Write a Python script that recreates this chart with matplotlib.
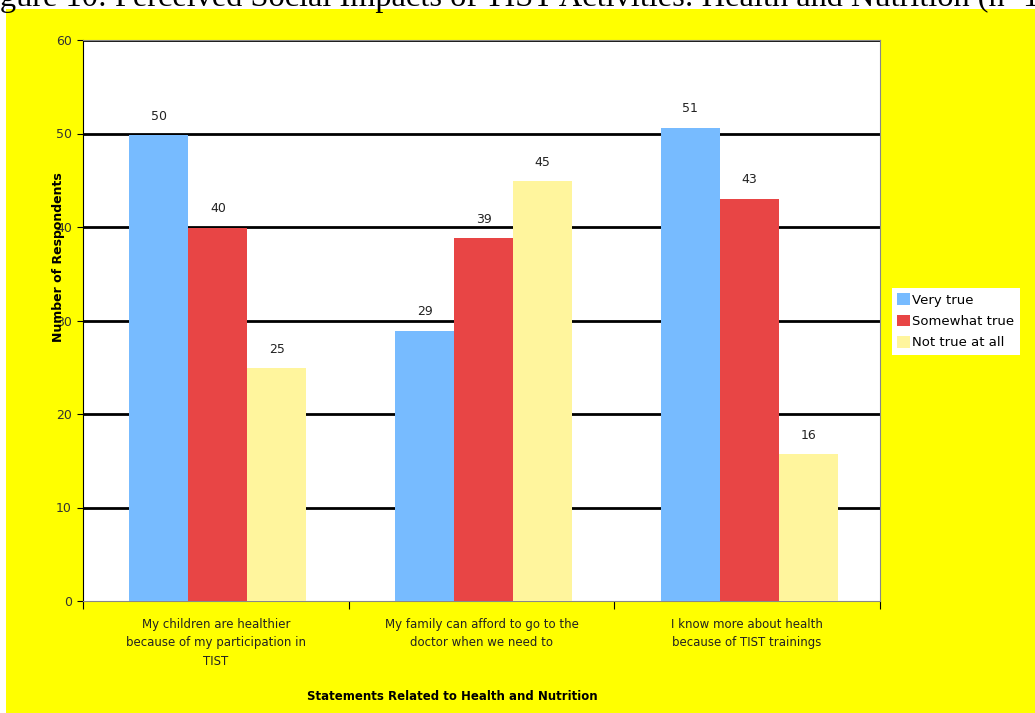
import numpy as np
import matplotlib.pyplot as plt
from matplotlib.patches import Rectangle

# data
statements = ["My children are healthier\nbecause of my participation in\nTIST",
              "My family can afford to go to the\ndoctor when we need to",
              "I know more about health\nbecause of TIST trainings"]
very_true = [49.8, 28.9, 50.6]
somewhat_true = [39.9, 38.8, 43.0]
not_true = [24.9, 44.9, 15.7]
series_names = ["Very true", "Somewhat true", "Not true at all"]
colors = ["#77BBFF", "#E84545", "#FFF59D"]

fig = plt.figure(figsize=(10.35, 7.13), dpi=100)
fig.patch.set_facecolor("#FFFF00")
# white page strips at top and left edge
fig.patches.append(Rectangle((0, 1 - 9 / 713), 1, 9 / 713, transform=fig.transFigure,
                             facecolor="white", edgecolor="none", zorder=0))
fig.patches.append(Rectangle((0, 0), 6 / 1035, 1, transform=fig.transFigure,
                             facecolor="white", edgecolor="none", zorder=0))
fig.text(-27 / 1035, 1 - 6 / 713,
         "Figure 10: Perceived Social Impacts of TIST Activities: Health and Nutrition (n=144)",
         family="Liberation Serif", fontsize=23.3, va="baseline", ha="left")

ax = fig.add_axes([83 / 1035, 1 - 601 / 713, 797 / 1035, 561 / 713])
ax.set_facecolor("white")
ax.set_zorder(2)

x = np.arange(len(statements)) + 0.008
w = 0.222
for i, (vals, name, c) in enumerate(zip([very_true, somewhat_true, not_true], series_names, colors)):
    bars = ax.bar(x + (i - 1) * w, vals, w, color=c, label=name, zorder=3)
    for b, v in zip(bars, vals):
        ax.annotate("%d" % round(v), (b.get_x() + b.get_width() / 2, v),
                    xytext=(0, 9), textcoords="offset points", ha="center",
                    va="bottom", fontsize=9, color="#222222")

for g in range(10, 61, 10):
    ax.axhline(g, color="black", linewidth=2.0, zorder=1)

ax.set_xlim(-0.5, 2.5)
ax.set_ylim(0, 60)
ax.set_yticks(range(0, 61, 10))
ax.tick_params(axis="y", direction="out", length=4, labelsize=9, labelcolor="#333333", pad=4)

ax.set_xticks([-0.5, 0.5, 1.5, 2.5])
ax.set_xticklabels([])
ax.tick_params(axis="x", which="major", direction="out", length=6, color="black")
ax.set_xticks(np.arange(len(statements)), minor=True)
ax.set_xticklabels(statements, minor=True, fontsize=8.5, color="#222222", linespacing=1.55)
ax.tick_params(axis="x", which="minor", length=0, pad=12)

for s in ["top", "right", "bottom"]:
    ax.spines[s].set_color("#888888")
ax.spines["left"].set_color("black")

ax.set_ylabel("Number of Respondents", fontsize=9, fontweight="bold")
ax.yaxis.set_label_coords(-0.0226, 0.613)
ax.set_xlabel("Statements Related to Health and Nutrition", fontsize=8.5, fontweight="bold")
ax.xaxis.set_label_coords(0.463, -0.159)

leg = fig.legend(loc="upper left", bbox_to_anchor=(892 / 1035, 1 - 288 / 713),
                 fontsize=9.5, frameon=True, fancybox=False, framealpha=1,
                 handlelength=1.0, handleheight=1.0, handletextpad=0.15,
                 labelspacing=0.6, borderpad=0.4, borderaxespad=0)
leg.get_frame().set_edgecolor("none")
leg.get_frame().set_facecolor("white")

plt.savefig("out.png", dpi=100)
